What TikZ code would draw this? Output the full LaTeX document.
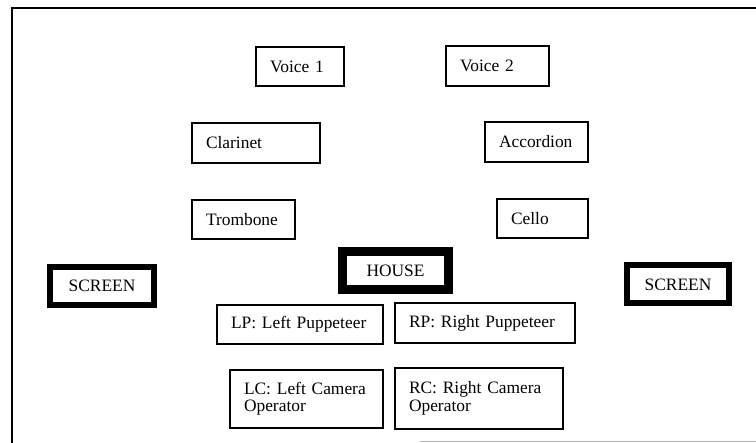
\documentclass[tikz,border=0pt]{standalone}
\usepackage{fontspec}
\setmainfont{Liberation Serif}
\usetikzlibrary{positioning}

\begin{document}
\begin{tikzpicture}[x=0.5pt, y=-0.5pt,
    slot/.style n args={3}{draw, line width=0.6pt, align=left,
        inner xsep=7pt, inner ysep=0pt, text width=#1, minimum height=#2,
        font=\fontsize{8.7}{8.7}\selectfont, at={#3}},
    stagebox/.style n args={3}{draw, line width=#1, align=center,
        inner sep=0pt, minimum width=#2, minimum height=19pt,
        font=\fontsize{8.7}{8.7}\selectfont, at={#3}}]
    \useasboundingbox (0,0) rectangle (756,443);

    % Frame
    \draw[line width=0.6pt] (760,8) -- (12,8) -- (12,445);
    \draw[gray!60, line width=0.5pt] (420,442) -- (760,442);

    % Voices
    \node[slot={30pt}{19.5pt}{(300,66.5)}] (voiceone) {Voice 1};
    \node[slot={37.5pt}{20pt}{(497.5,66)}] (voicetwo) {Voice 2};

    % Instruments
    \node[slot={50pt}{20pt}{(256,143)}] (clarinet) {Clarinet};
    \node[slot={37.5pt}{20pt}{(536.5,142)}] (accordion) {Accordion};
    \node[slot={37.5pt}{19.5pt}{(243.5,219.5)}] (trombone) {Trombone};
    \node[slot={31.5pt}{19.5pt}{(542.5,218.5)}] (cello) {Cello};

    % Screens and house
    \node[stagebox={3pt}{52pt}{(102,286)}] (screenleft) {SCREEN};
    \node[stagebox={3pt}{51pt}{(678,284.5)}] (screenright) {SCREEN};
    \node[stagebox={4.5pt}{53pt}{(395.5,270.5)}] (house) {HOUSE};

    % Puppeteers
    \node[slot={69pt}{19.5pt}{(300,324.5)}] (leftpup) {LP: Left Puppeteer};
    \node[slot={76pt}{20pt}{(485,323)}] (rightpup) {RP: Right Puppeteer};

    % Camera operators
    \node[slot={62.5pt}{29pt}{(306.5,399)}] (leftcam) {LC: Left Camera\\Operator};
    \node[slot={70pt}{30.5pt}{(479,398.5)}] (rightcam) {RC: Right Camera\\Operator};
\end{tikzpicture}
\end{document}
